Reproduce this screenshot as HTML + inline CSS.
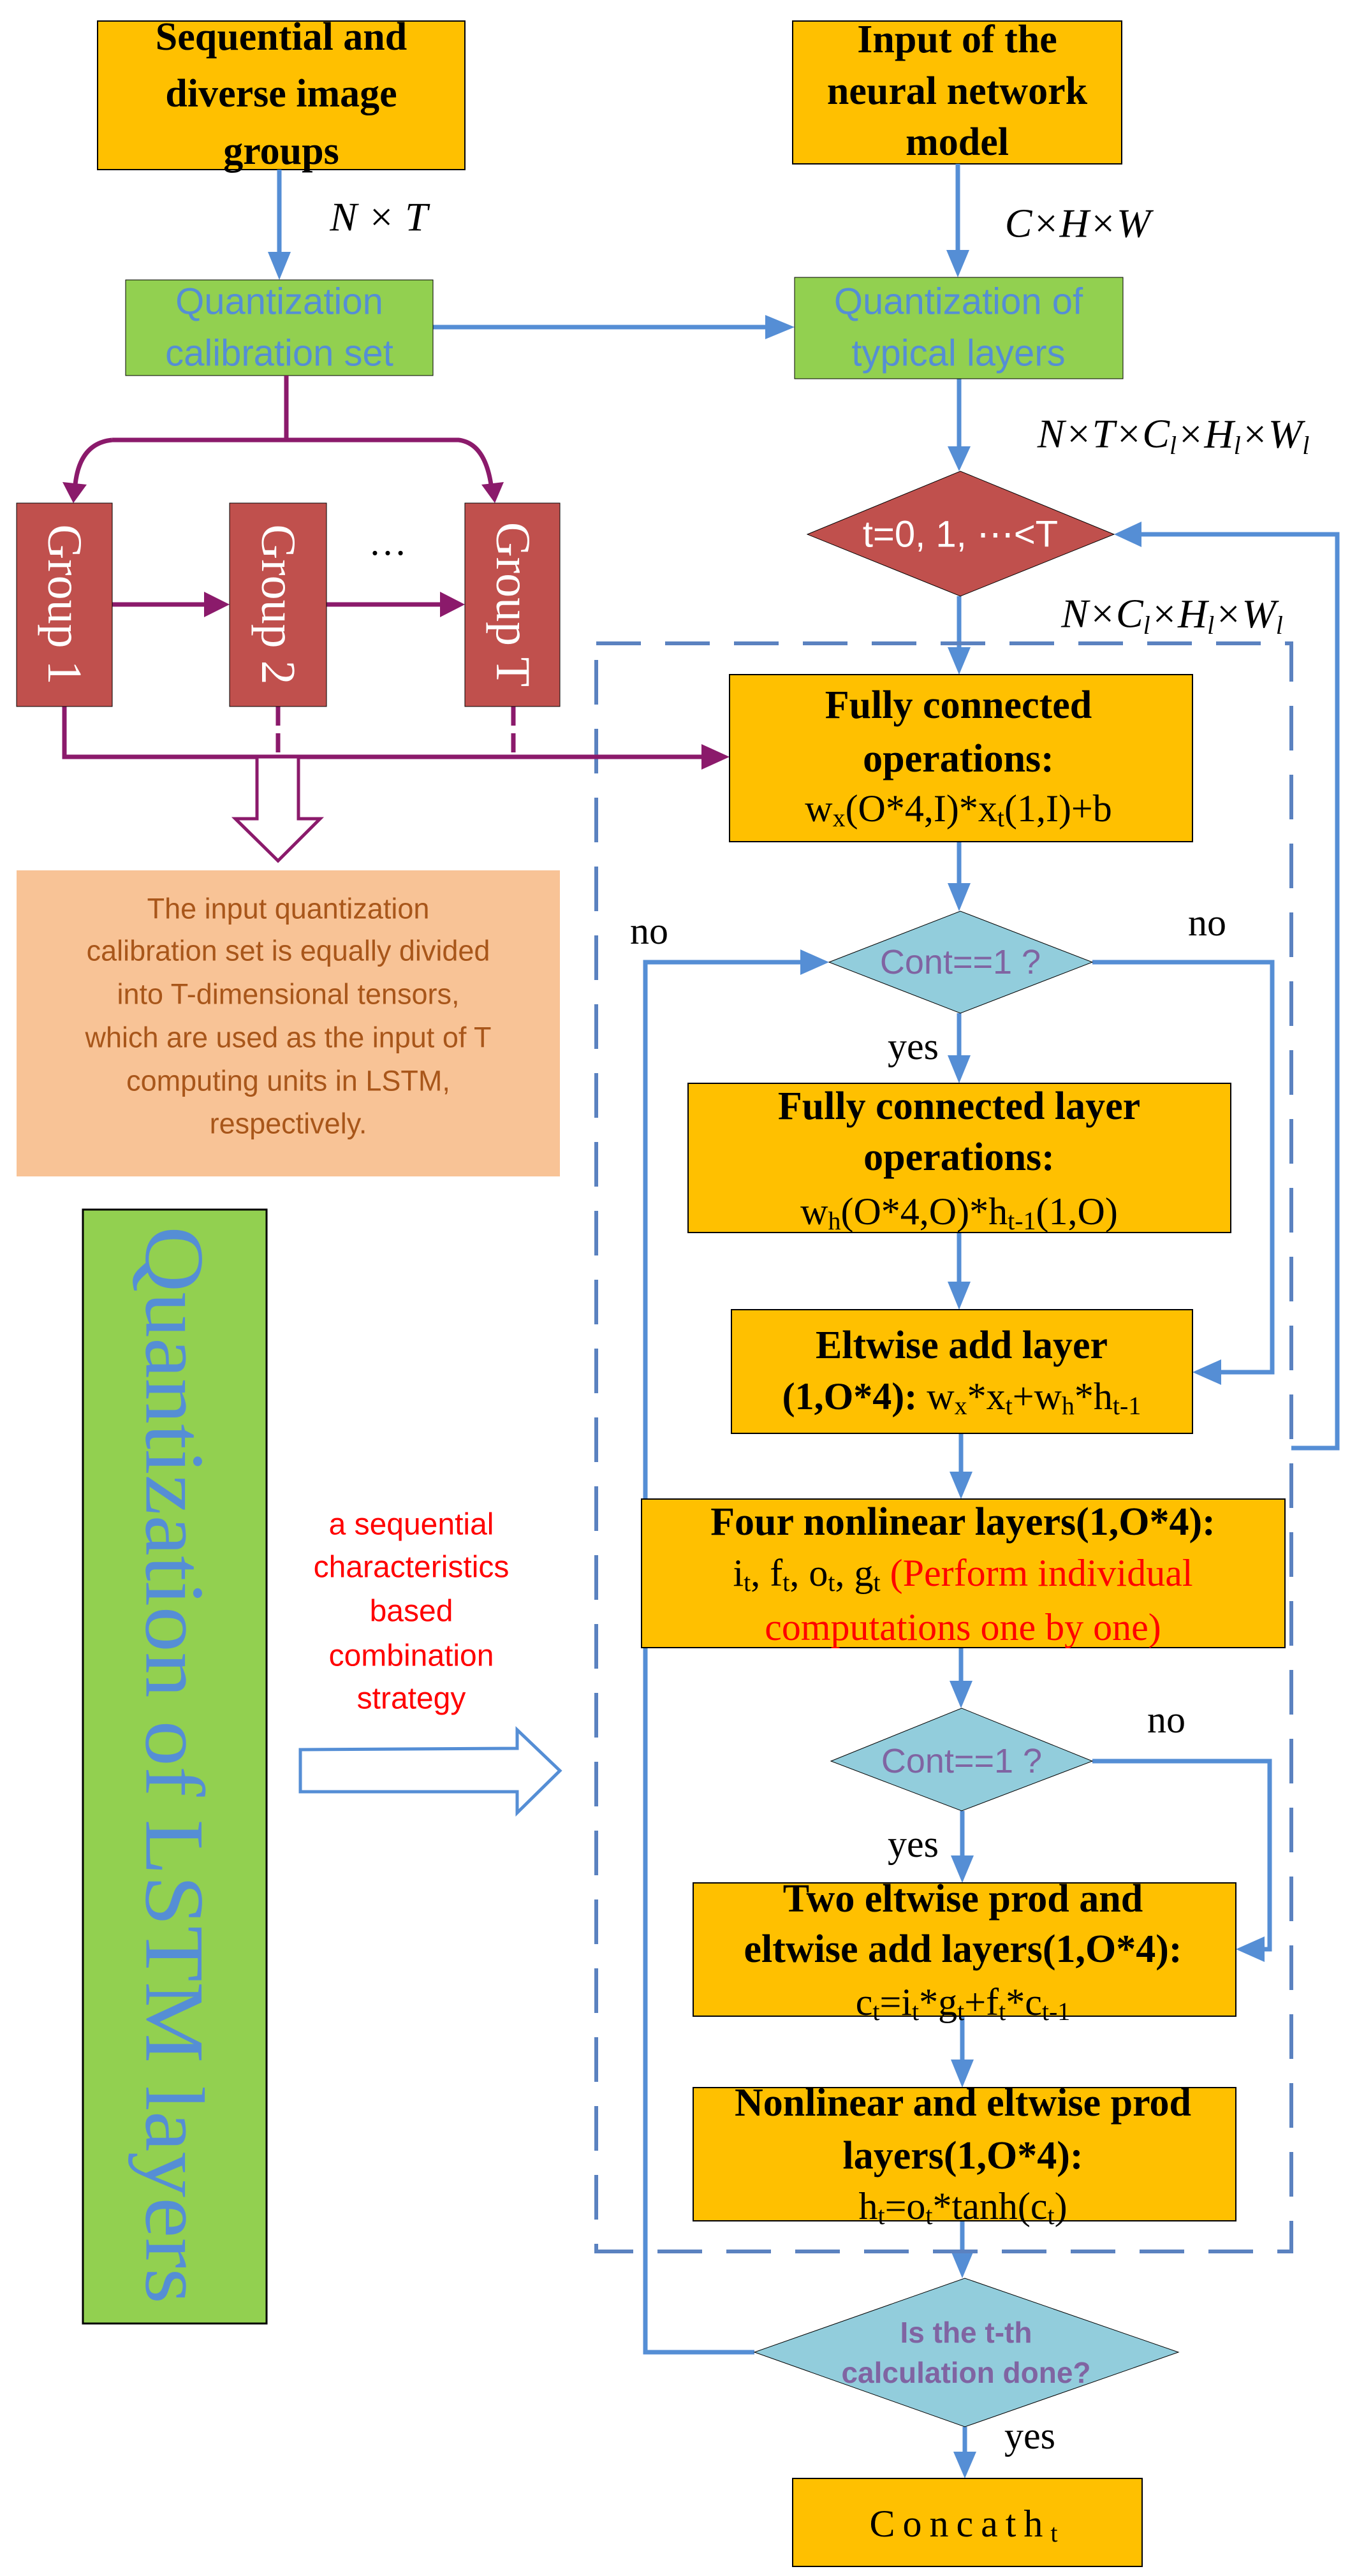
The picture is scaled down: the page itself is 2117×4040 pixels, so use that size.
<!DOCTYPE html>
<html><head><meta charset="utf-8"><style>
html,body{margin:0;padding:0;background:#fff}
svg{display:block}
.b{font-family:"Liberation Serif",serif;font-weight:bold;font-size:62px;fill:#000}
.n{font-family:"Liberation Serif",serif;font-size:60px;fill:#000}
.s{font-family:"Liberation Sans",sans-serif}
.m{font-family:"Liberation Serif",serif;font-style:italic;font-size:64px;fill:#000}
</style></head><body>
<svg width="2117" height="4040" viewBox="0 0 2117 4040" xmlns="http://www.w3.org/2000/svg">
<g text-anchor="middle" dominant-baseline="central">
<!-- top boxes -->
<rect x="153" y="33" width="576" height="233" fill="#ffc000" stroke="#000" stroke-width="2"/>
<text class="b" x="441" y="58">Sequential and</text>
<text class="b" x="441" y="147">diverse image</text>
<text class="b" x="441" y="237">groups</text>
<rect x="1243" y="33" width="516" height="224" fill="#ffc000" stroke="#000" stroke-width="2"/>
<text class="b" x="1501" y="62">Input of the</text>
<text class="b" x="1501" y="143">neural network</text>
<text class="b" x="1501" y="223">model</text>

<g stroke="#558ed5" stroke-width="7" fill="none">
<line x1="438" y1="266" x2="438" y2="395"/>
<line x1="1502" y1="257" x2="1502" y2="392"/>
<line x1="679" y1="513" x2="1200" y2="513"/>
<line x1="1504" y1="594" x2="1504" y2="700"/>
<line x1="1504" y1="935" x2="1504" y2="1015"/>
<polyline points="2025,2271 2097,2271 2097,838 1790,838"/>
<line x1="1504" y1="1320" x2="1504" y2="1385"/>
<line x1="1504" y1="1589" x2="1504" y2="1655"/>
<polyline points="1713,1509 1995,1509 1995,2152 1915,2152"/>
<polyline points="1183,3689 1012,3689 1012,1509 1255,1509"/>
<line x1="1504" y1="1933" x2="1504" y2="2010"/>
<line x1="1507" y1="2248" x2="1507" y2="2308"/>
<line x1="1507" y1="2584" x2="1507" y2="2636"/>
<line x1="1509" y1="2840" x2="1509" y2="2910"/>
<polyline points="1713,2762 1991,2762 1991,3057 1983,3057"/>
<line x1="1509" y1="3162" x2="1509" y2="3230"/>
<line x1="1509" y1="3483" x2="1509" y2="3530"/>
<line x1="1513" y1="3806" x2="1513" y2="3845"/>
</g>
<g fill="#558ed5">
<polygon points="420,395 456,395 438,439"/>
<polygon points="1484,392 1520,392 1502,435"/>
<polygon points="1200,494 1200,532 1246,513"/>
<polygon points="1486,700 1522,700 1504,739"/>
<polygon points="1790,818 1790,858 1747,838"/>
<polygon points="1486,1015 1522,1015 1504,1058"/>
<polygon points="1486,1385 1522,1385 1504,1429"/>
<polygon points="1486,1655 1522,1655 1504,1699"/>
<polygon points="1255,1489 1255,1529 1300,1509"/>
<polygon points="1915,2132 1915,2172 1870,2152"/>
<polygon points="1486,2010 1522,2010 1504,2054"/>
<polygon points="1489,2308 1525,2308 1507,2351"/>
<polygon points="1489,2636 1525,2636 1507,2679"/>
<polygon points="1491,2910 1527,2910 1509,2953"/>
<polygon points="1983,3037 1983,3077 1938,3057"/>
<polygon points="1491,3230 1527,3230 1509,3274"/>
<polygon points="1491,3530 1527,3530 1509,3573"/>
<polygon points="1495,3845 1531,3845 1513,3887"/>
</g>
<path d="M935,1009 H2025 V3531 H935 Z" fill="none" stroke="#5b82c0" stroke-width="6" stroke-dasharray="70,38"/>

<text class="m" x="594" y="340">N × T</text>
<text class="m" x="1690" y="350">C×H×W</text>
<text class="m" x="1840" y="680">N×T×C<tspan font-size="40" dy="18">l</tspan><tspan dy="-18">×H</tspan><tspan font-size="40" dy="18">l</tspan><tspan dy="-18">×W</tspan><tspan font-size="40" dy="18">l</tspan></text>
<text class="m" x="1838" y="962">N×C<tspan font-size="40" dy="18">l</tspan><tspan dy="-18">×H</tspan><tspan font-size="40" dy="18">l</tspan><tspan dy="-18">×W</tspan><tspan font-size="40" dy="18">l</tspan></text>

<rect x="197" y="439" width="482" height="150" fill="#92d050" stroke="#000" stroke-width="1"/>
<text class="s" x="438" y="473" font-size="58" fill="#558ed5">Quantization</text>
<text class="s" x="438" y="554" font-size="58" fill="#558ed5">calibration set</text>
<rect x="1246" y="435" width="515" height="159" fill="#92d050" stroke="#000" stroke-width="1"/>
<text class="s" x="1503" y="473" font-size="58" fill="#558ed5">Quantization of</text>
<text class="s" x="1503" y="554" font-size="58" fill="#558ed5">typical layers</text>

<polygon points="1266,838 1506,739 1747,838 1506,935" fill="#c0504d" stroke="#000" stroke-width="1"/>
<text class="s" x="1506" y="838" font-size="58" fill="#fff">t=0, 1, ⋯&lt;T</text>

<g stroke="#8b1a6b" stroke-width="7" fill="none">
<line x1="449" y1="589" x2="449" y2="690"/>
<path d="M176,690 H719 Q760,695 770,760"/>
<path d="M176,690 Q125,695 118,760"/>
<line x1="176" y1="948" x2="320" y2="948"/>
<line x1="512" y1="948" x2="690" y2="948"/>
<polyline points="101,1108 101,1187 1100,1187"/>
<line x1="436" y1="1108" x2="436" y2="1187" stroke-dasharray="30,12"/>
<line x1="805" y1="1108" x2="805" y2="1187" stroke-dasharray="30,12"/>
<polygon points="403,1187 403,1284 369,1284 436,1350 502,1284 468,1284 468,1187" fill="#fff" stroke-width="5"/>
</g>
<g fill="#8b1a6b">
<polygon points="98,756 136,760 115,789"/>
<polygon points="755,760 790,756 776,789"/>
<polygon points="320,928 320,968 360,948"/>
<polygon points="690,928 690,968 729,948"/>
<polygon points="1100,1167 1100,1207 1144,1187"/>
</g>
<text class="n" x="608" y="850">…</text>
<g fill="#c0504d" stroke="#000" stroke-width="1">
<rect x="26" y="789" width="150" height="319"/>
<rect x="360" y="789" width="152" height="319"/>
<rect x="729" y="789" width="149" height="319"/>
</g>
<g font-family="Liberation Serif,serif" font-size="76" fill="#fff" text-anchor="middle">
<text transform="translate(101,948) rotate(90)">Group 1</text>
<text transform="translate(436,948) rotate(90)">Group 2</text>
<text transform="translate(804,948) rotate(90)">Group T</text>
</g>

<rect x="26" y="1365" width="852" height="480" fill="#f8c396"/>
<g class="s" font-size="45" fill="#a8561a">
<text x="452" y="1425">The input quantization</text>
<text x="452" y="1491">calibration set is equally divided</text>
<text x="452" y="1559">into T-dimensional tensors,</text>
<text x="452" y="1627">which are used as the input of T</text>
<text x="452" y="1695">computing units in LSTM,</text>
<text x="452" y="1762">respectively.</text>
</g>

<rect x="130" y="1897" width="288" height="1747" fill="#92d050" stroke="#000" stroke-width="3"/>
<text transform="translate(274,2768) rotate(90)" font-family="Liberation Serif,serif" font-size="132" fill="#558ed5" textLength="1690" lengthAdjust="spacingAndGlyphs">Quantization of LSTM layers</text>

<g class="s" font-size="48" fill="#ff0000">
<text x="645" y="2391">a sequential</text>
<text x="645" y="2458">characteristics</text>
<text x="645" y="2527">based</text>
<text x="645" y="2597">combination</text>
<text x="645" y="2664">strategy</text>
</g>
<polygon points="471,2744 811,2742 811,2713 878,2777 811,2843 811,2810 471,2810" fill="#fff" stroke="#558ed5" stroke-width="5"/>

<rect x="1144" y="1058" width="726" height="262" fill="#ffc000" stroke="#000" stroke-width="2"/>
<text class="b" x="1503" y="1106">Fully connected</text>
<text class="b" x="1503" y="1190">operations:</text>
<text class="n" x="1503" y="1268">w<tspan font-size="40" dy="14">x</tspan><tspan dy="-14">(O*4,I)*x</tspan><tspan font-size="40" dy="14">t</tspan><tspan dy="-14">(1,I)+b</tspan></text>

<polygon points="1300,1509 1506,1429 1713,1509 1506,1589" fill="#92cddc" stroke="#000" stroke-width="1"/>
<text class="s" x="1506" y="1509" font-size="54" fill="#8064a2">Cont==1 ?</text>
<text class="n" x="1018" y="1460">no</text>
<text class="n" x="1893" y="1447">no</text>
<text class="n" x="1432" y="1641">yes</text>

<rect x="1079" y="1699" width="851" height="234" fill="#ffc000" stroke="#000" stroke-width="2"/>
<text class="b" x="1504" y="1735">Fully connected layer</text>
<text class="b" x="1504" y="1815">operations:</text>
<text class="n" x="1504" y="1900">w<tspan font-size="40" dy="14">h</tspan><tspan dy="-14">(O*4,O)*h</tspan><tspan font-size="40" dy="14">t-1</tspan><tspan dy="-14">(1,O)</tspan></text>

<rect x="1147" y="2054" width="723" height="194" fill="#ffc000" stroke="#000" stroke-width="2"/>
<text class="b" x="1508" y="2110">Eltwise add layer</text>
<text class="n" x="1508" y="2190"><tspan font-weight="bold">(1,O*4):</tspan> w<tspan font-size="40" dy="14">x</tspan><tspan dy="-14">*x</tspan><tspan font-size="40" dy="14">t</tspan><tspan dy="-14">+w</tspan><tspan font-size="40" dy="14">h</tspan><tspan dy="-14">*h</tspan><tspan font-size="40" dy="14">t-1</tspan></text>

<rect x="1006" y="2351" width="1009" height="233" fill="#ffc000" stroke="#000" stroke-width="2"/>
<text class="b" x="1510" y="2387">Four nonlinear layers(1,O*4):</text>
<text class="n" x="1510" y="2467">i<tspan font-size="40" dy="14">t</tspan><tspan dy="-14">, f</tspan><tspan font-size="40" dy="14">t</tspan><tspan dy="-14">, o</tspan><tspan font-size="40" dy="14">t</tspan><tspan dy="-14">, g</tspan><tspan font-size="40" dy="14">t</tspan><tspan dy="-14" style="fill:#ff0000"> (Perform individual</tspan></text>
<text class="n" x="1510" y="2552" style="fill:#ff0000">computations one by one)</text>

<polygon points="1303,2762 1508,2679 1713,2762 1508,2840" fill="#92cddc" stroke="#000" stroke-width="1"/>
<text class="s" x="1508" y="2762" font-size="54" fill="#8064a2">Cont==1 ?</text>
<text class="n" x="1829" y="2697">no</text>
<text class="n" x="1432" y="2892">yes</text>

<rect x="1087" y="2953" width="851" height="209" fill="#ffc000" stroke="#000" stroke-width="2"/>
<text class="b" x="1510" y="2978">Two eltwise prod and</text>
<text class="b" x="1510" y="3057">eltwise add layers(1,O*4):</text>
<text class="n" x="1510" y="3140">c<tspan font-size="40" dy="14">t</tspan><tspan dy="-14">=i</tspan><tspan font-size="40" dy="14">t</tspan><tspan dy="-14">*g</tspan><tspan font-size="40" dy="14">t</tspan><tspan dy="-14">+f</tspan><tspan font-size="40" dy="14">t</tspan><tspan dy="-14">*c</tspan><tspan font-size="40" dy="14">t-1</tspan></text>

<rect x="1087" y="3274" width="851" height="209" fill="#ffc000" stroke="#000" stroke-width="2"/>
<text class="b" x="1510" y="3298">Nonlinear and eltwise prod</text>
<text class="b" x="1510" y="3381">layers(1,O*4):</text>
<text class="n" x="1510" y="3460">h<tspan font-size="40" dy="14">t</tspan><tspan dy="-14">=o</tspan><tspan font-size="40" dy="14">t</tspan><tspan dy="-14">*tanh(c</tspan><tspan font-size="40" dy="14">t</tspan><tspan dy="-14">)</tspan></text>

<polygon points="1183,3689 1513,3573 1848,3689 1513,3806" fill="#92cddc" stroke="#000" stroke-width="1"/>
<text class="s" x="1515" y="3658" font-size="46" font-weight="bold" fill="#8064a2">Is the t-th</text>
<text class="s" x="1515" y="3721" font-size="46" font-weight="bold" fill="#8064a2">calculation done?</text>
<text class="n" x="1615" y="3820">yes</text>

<rect x="1243" y="3887" width="548" height="138" fill="#ffc000" stroke="#000" stroke-width="2"/>
<text class="n" x="1517" y="3958" letter-spacing="12">Concath<tspan font-size="40" dy="14">t</tspan></text>
</g>
</svg>
</body></html>
